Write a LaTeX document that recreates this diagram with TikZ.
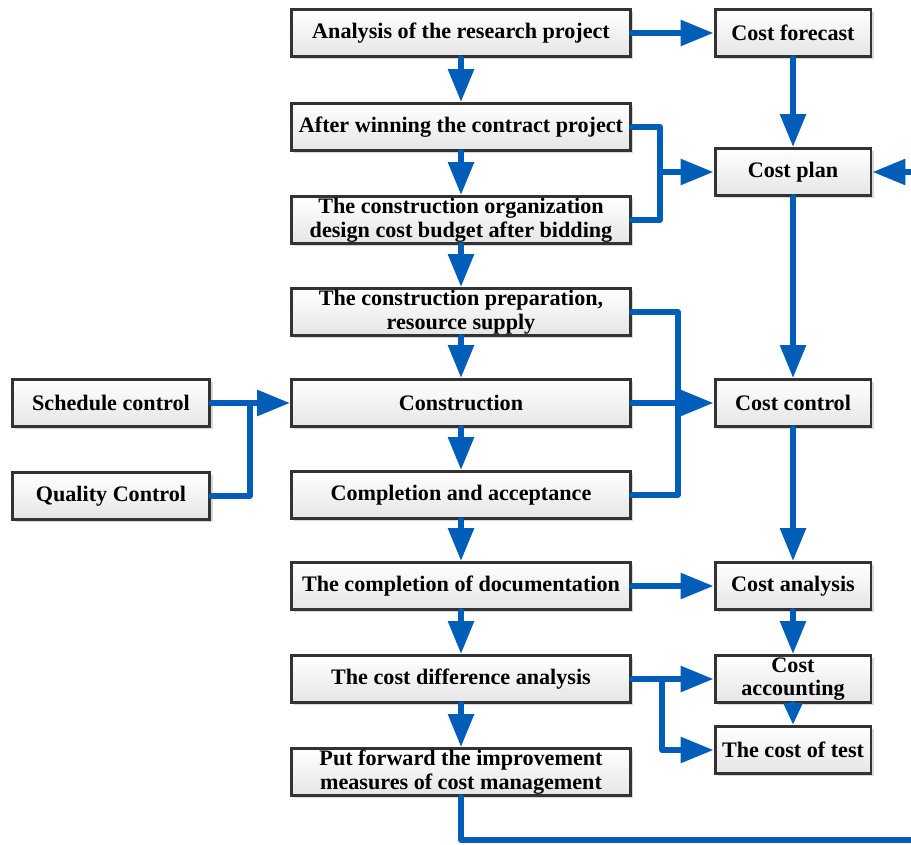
\documentclass[tikz,border=0pt]{standalone}
\usepackage{fontspec}
\setmainfont{Liberation Serif}
\usetikzlibrary{arrows.meta,shadows}
\definecolor{flowblue}{RGB}{0,94,184}

\begin{document}
\begin{tikzpicture}[x=0.02cm,y=-0.02cm,
    box/.style={draw=black!80,line width=1.7pt,top color=white,bottom color=black!10,
        drop shadow={shadow xshift=1.5pt,shadow yshift=-1.5pt,fill=black!30,opacity=0.5},
        minimum height=0.94cm,inner sep=0pt,align=center,
        font=\fontsize{12.6}{13.4}\selectfont\bfseries},
    mainbox/.style={box,minimum width=6.78cm},
    costbox/.style={box,minimum width=3.12cm},
    ctrlbox/.style={box,minimum width=3.96cm},
    flow/.style={flowblue,line width=3.3pt,line cap=round,line join=round},
    tip/.style={-{Triangle[length=0.66cm,width=0.5cm]}},
    smalltip/.style={-{Triangle[length=0.44cm,width=0.36cm]}}]
        \useasboundingbox (0,0) rectangle (911,844);
        \clip (0,0) rectangle (911,844);
        % main column
        \node[mainbox] (analysis) at (461,33) {Analysis of the research project};
        \node[mainbox] (winning) at (461,127) {After winning the contract project};
        \node[mainbox] (design) at (461,220) {The construction organization\\design cost budget after bidding};
        \node[mainbox] (prepare) at (461,312) {The construction preparation,\\resource supply};
        \node[mainbox] (construct) at (461,403) {Construction};
        \node[mainbox] (accept) at (461,495) {Completion and acceptance};
        \node[mainbox] (docs) at (461,586) {The completion of documentation};
        \node[mainbox] (diff) at (461,679) {The cost difference analysis};
        \node[mainbox] (improve) at (461,772) {Put forward the improvement\\measures of cost management};
        % cost column
        \node[costbox] (forecast) at (793,33) {Cost forecast};
        \node[costbox] (plan) at (793,172) {Cost plan};
        \node[costbox] (control) at (793,403) {Cost control};
        \node[costbox] (costanalysis) at (793,586) {Cost analysis};
        \node[costbox] (accounting) at (793,679) {Cost\\accounting};
        \node[costbox] (test) at (793,750) {The cost of test};
        % control column
        \node[ctrlbox] (schedule) at (111,403) {Schedule control};
        \node[ctrlbox] (quality) at (111,496) {Quality Control};
        % joints
        \coordinate (joinplan) at (660,172);
        \coordinate (joinsupply) at (678,403);
        \coordinate (joinctrl) at (250,403);
        \coordinate (jointest) at (662,679);
        \coordinate (loop) at (930,840);
        % arrows
        \foreach \a/\b in {analysis/winning,winning/design,design/prepare,prepare/construct,
            construct/accept,accept/docs,docs/diff,diff/improve,
            forecast/plan,plan/control,control/costanalysis,costanalysis/accounting,
            analysis/forecast,construct/control,docs/costanalysis,diff/accounting,schedule/construct}
            \draw[flow,tip] (\a) -- (\b);
        \draw[flow,smalltip] (accounting) -- (test);
        \draw[flow] (winning.east) -| (joinplan) |- (design.east);
        \draw[flow,tip] (joinplan) -- (plan);
        \draw[flow] (prepare.east) -| (joinsupply) |- (accept.east);
        \draw[flow] (quality.east) -| (joinctrl);
        \draw[flow,tip] (jointest) |- (test.west);
        \draw[flow,tip] (improve.south) |- (loop) |- (plan.east);
\end{tikzpicture}
\end{document}
